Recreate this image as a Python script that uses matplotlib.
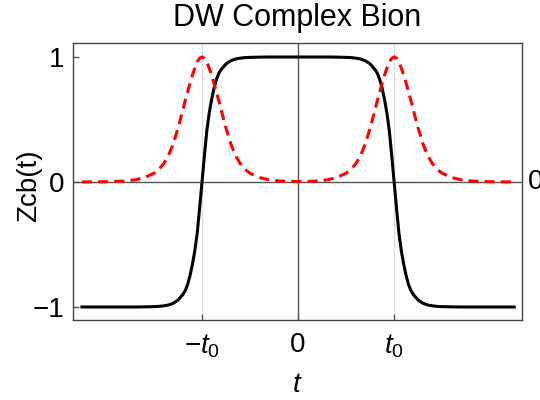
import matplotlib
matplotlib.use('Agg')
import matplotlib.pyplot as plt

# --- Données (t en unités de t0) ---
t = [-2.25, -2.0, -1.8, -1.7, -1.6, -1.5, -1.45, -1.4, -1.35, -1.3, -1.25,
     -1.2, -1.175, -1.15, -1.125, -1.1, -1.075, -1.05, -1.025, -1.0,
     -0.975, -0.95, -0.925, -0.9, -0.875, -0.85, -0.825, -0.8, -0.75, -0.7,
     -0.65, -0.6, -0.55, -0.5, -0.4, -0.3, -0.2, -0.1, 0.0,
     0.1, 0.2, 0.3, 0.4, 0.5, 0.55, 0.6, 0.65, 0.7, 0.75, 0.8, 0.825, 0.85,
     0.875, 0.9, 0.925, 0.95, 0.975, 1.0, 1.025, 1.05, 1.075, 1.1, 1.125,
     1.15, 1.175, 1.2, 1.25, 1.3, 1.35, 1.4, 1.45, 1.5, 1.6, 1.7, 1.8, 2.0, 2.25]

zcb = [-1.0, -1.0, -1.0, -1.0, -0.999, -0.997, -0.995, -0.991, -0.984, -0.97, -0.945,
       -0.90, -0.87, -0.82, -0.75, -0.66, -0.55, -0.41, -0.21, 0.0,
       0.21, 0.41, 0.55, 0.66, 0.75, 0.82, 0.87, 0.90, 0.945, 0.97,
       0.984, 0.991, 0.995, 0.997, 0.999, 1.0, 1.0, 1.0, 1.0,
       1.0, 1.0, 1.0, 0.999, 0.997, 0.995, 0.991, 0.984, 0.97, 0.945, 0.90, 0.87, 0.82,
       0.75, 0.66, 0.55, 0.41, 0.21, 0.0, -0.21, -0.41, -0.55, -0.66, -0.75,
       -0.82, -0.87, -0.90, -0.945, -0.97, -0.984, -0.991, -0.995, -0.997, -0.999, -1.0, -1.0, -1.0, -1.0]

peaks = [0.0, 0.002, 0.008, 0.017, 0.035, 0.07, 0.10, 0.145, 0.21, 0.305, 0.43,
         0.575, 0.65, 0.72, 0.79, 0.855, 0.91, 0.96, 0.99, 1.0,
         0.99, 0.96, 0.91, 0.855, 0.79, 0.72, 0.65, 0.575, 0.43, 0.305,
         0.21, 0.145, 0.10, 0.07, 0.035, 0.017, 0.008, 0.005, 0.004,
         0.005, 0.008, 0.017, 0.035, 0.07, 0.10, 0.145, 0.21, 0.305, 0.43, 0.575, 0.65, 0.72,
         0.79, 0.855, 0.91, 0.96, 0.99, 1.0, 0.99, 0.96, 0.91, 0.855, 0.79,
         0.72, 0.65, 0.575, 0.43, 0.305, 0.21, 0.145, 0.10, 0.07, 0.035, 0.017, 0.008, 0.002, 0.0]

x_ticks = [-1, 0, 1]
x_labels = [r'$-t_0$', '0', r'$t_0$']
y_ticks = [-1, 0, 1]
y_labels = ['\u22121', '0', '1']

# --- Style ---
plt.rcParams['font.family'] = ['Liberation Sans', 'DejaVu Sans']
plt.rcParams['mathtext.fontset'] = 'custom'
plt.rcParams['mathtext.rm'] = 'Liberation Sans'
plt.rcParams['mathtext.it'] = 'Liberation Sans:italic'
plt.rcParams['font.size'] = 20

fig = plt.figure(figsize=(5.4, 4.0), dpi=100)
ax = fig.add_axes([0.135, 0.2, 0.832, 0.6925])

# lignes d'axes et repères
ax.axvline(-1, color='#dddddd', lw=1, zorder=0)
ax.axvline(1, color='#dddddd', lw=1, zorder=0)
ax.axvline(0, color='#555555', lw=1, zorder=1)
ax.axhline(0, color='#555555', lw=1, zorder=1)

ax.plot(t, zcb, color='black', lw=2.2, zorder=3)
ax.plot(t, peaks, color='#ff0000', lw=2.2, linestyle=(0, (3.3, 2.0)), zorder=4)

ax.set_xlim(-2.344, 2.333)
ax.set_ylim(-1.104, 1.112)

ax.set_xticks(x_ticks)
ax.set_xticklabels(x_labels)
ax.set_yticks(y_ticks)
ax.set_yticklabels(y_labels)
ax.tick_params(direction='in', length=4, width=1, color='#555555', labelsize=20)
ax.tick_params(axis='x', pad=9)
ax.tick_params(axis='y', pad=6)

for s in ax.spines.values():
    s.set_color('#444444')
    s.set_linewidth(1)

ax.set_title('DW Complex Bion', fontsize=22, pad=12)
ax.set_xlabel(r'$t$', fontsize=20, labelpad=9)
ax.set_ylabel('Zcb(t)', fontsize=20)
ax.yaxis.set_label_coords(-0.069, 0.486)

# étiquette "0" à droite (coupée par le bord)
ax.text(1.012, 0, '0', transform=ax.get_yaxis_transform(), ha='left', va='center',
        fontsize=20, clip_on=False)

fig.savefig('out.png', dpi=100)
